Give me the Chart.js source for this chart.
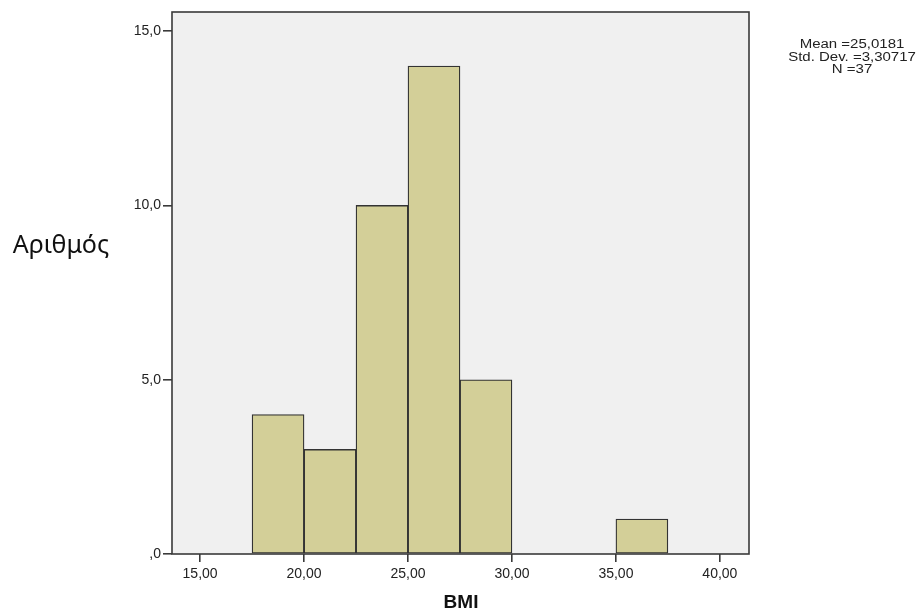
<!DOCTYPE html>
<html>
<head>
<meta charset="utf-8">
<script src="https://cdn.jsdelivr.net/npm/chart.js@4"></script>
<style>
html,body{margin:0;padding:0;background:#fff;}
#wrap{width:923px;height:614px;position:relative;}
</style>
</head>
<body>
<div id="wrap"><canvas id="c" width="923" height="614"></canvas></div>
<script>
// Data
const binCenters = [18.75, 21.25, 23.75, 26.25, 28.75, 36.25];
const counts = [4, 3, 10, 14, 5, 1];
const xTickValues = [15, 20, 25, 30, 35, 40];
const xTickLabels = ['15,00', '20,00', '25,00', '30,00', '35,00', '40,00'];
const yTickValues = [0, 5, 10, 15];
const yTickLabels = [',0', '5,0', '10,0', '15,0'];
const statsLines = ['Mean =25,0181', 'Std. Dev. =3,30717', 'N =37'];
const xTitle = 'BMI';
const yTitle = 'Αριθμός';

const LEFT = 172, RIGHT = 749, TOP = 12, BOTTOM = 554, W = 923, H = 614;

const framePlugin = {
  id: 'frame',
  beforeDraw(chart) {
    const ctx = chart.ctx, a = chart.chartArea;
    ctx.save();
    ctx.fillStyle = '#fff';
    ctx.fillRect(0, 0, chart.width, chart.height);
    ctx.fillStyle = '#f0f0f0';
    ctx.fillRect(a.left, a.top, a.right - a.left, a.bottom - a.top);
    ctx.restore();
  },
  afterDraw(chart) {
    const ctx = chart.ctx, a = chart.chartArea;
    ctx.save();
    ctx.strokeStyle = '#3a3a3a';
    ctx.lineWidth = 1.6;
    ctx.strokeRect(a.left, a.top, a.right - a.left, a.bottom - a.top);
    // stats (slightly stretched horizontally, like the reference)
    ctx.fillStyle = '#222';
    ctx.font = '12.5px "Liberation Sans", Arial, sans-serif';
    ctx.textAlign = 'center';
    ctx.textBaseline = 'middle';
    statsLines.forEach((s, i) => {
      ctx.save();
      ctx.translate(852, 45 + i * 12.5);
      ctx.scale(1.2, 1);
      ctx.fillText(s, 0, 0);
      ctx.restore();
    });
    // y title
    ctx.font = '25px "Noto Sans", "Open Sans", sans-serif';
    ctx.fillStyle = '#111';
    ctx.fillText(yTitle, 61, 246);
    // x title
    ctx.font = 'bold 19px "Liberation Sans", Arial, sans-serif';
    ctx.fillText(xTitle, 461, 603);
    ctx.restore();
  }
};

new Chart(document.getElementById('c'), {
  type: 'bar',
  data: {
    datasets: [{
      data: binCenters.map((x, i) => ({ x: x, y: counts[i] })),
      backgroundColor: '#d3cf98',
      borderColor: '#333',
      borderWidth: 1.3,
      borderSkipped: false,
      barPercentage: 1.0,
      categoryPercentage: 1.0
    }]
  },
  options: {
    responsive: false,
    animation: false,
    devicePixelRatio: 1,
    layout: { padding: { left: 0, right: W - RIGHT, top: TOP, bottom: 0 } },
    plugins: { legend: { display: false }, tooltip: { enabled: false } },
    scales: {
      x: {
        type: 'linear',
        min: 13.65,
        max: 41.4,
        offset: false,
        afterFit(s) { s.height = H - BOTTOM; },
        afterBuildTicks(s) { s.ticks = xTickValues.map(v => ({ value: v })); },
        grid: { offset: false, drawOnChartArea: false, drawTicks: true, tickLength: 8, color: '#3a3a3a', lineWidth: 1.6 },
        border: { display: false },
        ticks: {
          padding: 4,
          autoSkip: false,
          maxRotation: 0,
          color: '#222',
          font: { family: '"Liberation Sans", Arial, sans-serif', size: 14 },
          callback: (v) => xTickLabels[xTickValues.indexOf(v)]
        }
      },
      y: {
        min: 0,
        max: 15.55,
        afterFit(s) { s.width = LEFT; },
        afterBuildTicks(s) { s.ticks = yTickValues.map(v => ({ value: v })); },
        grid: { drawOnChartArea: false, drawTicks: true, tickLength: 9, color: '#3a3a3a', lineWidth: 1.6 },
        border: { display: false },
        ticks: {
          padding: 2,
          autoSkip: false,
          color: '#222',
          font: { family: '"Liberation Sans", Arial, sans-serif', size: 14 },
          callback: (v) => yTickLabels[yTickValues.indexOf(v)]
        }
      }
    }
  },
  plugins: [framePlugin]
});
</script>
</body>
</html>
